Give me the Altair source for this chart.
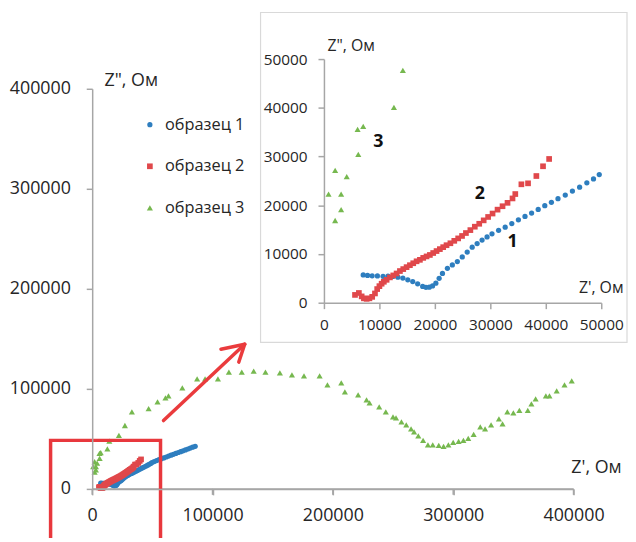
import altair as alt
import pandas as pd

# ---------------- data ----------------
series_names = ["образец 1", "образец 2", "образец 3"]
colors = ["#2e7ebf", "#e0484b", "#76b84f"]
shapes = ["circle", "square", "triangle-up"]
sizes = [28, 38, 58]

x1 = [7080, 7860, 8690, 9640, 10660, 11550, 12440, 13330, 14230, 15120, 16010, 16900,
      17800, 18390, 18990, 19580, 20180, 20770, 21370, 22260, 23150, 24050, 24940, 25830,
      26730, 27620, 28510, 29410, 30300, 31490, 32680, 33870, 35060, 36250, 37440, 38630,
      39820, 41010, 42200, 43510, 44800, 46100, 47400, 48600, 49640,
      51500, 53500, 55500, 57500, 59500, 61500, 63500, 65500, 67500, 69500, 71500, 73500,
      75500, 77500, 79500, 81500, 83500, 85600]
y1 = [5690, 5600, 5520, 5500, 5420, 5480, 5380, 5250, 5050, 4700, 4350, 3880,
      3350, 3150, 3180, 3450, 4000, 5000, 6000, 7050, 7750, 8450, 9400, 10400,
      11400, 12150, 12850, 13500, 14150, 14850, 15500, 16250, 17000, 17700, 18400, 19150,
      19900, 20600, 21350, 22100, 22900, 23700, 24600, 25400, 26300,
      27300, 28300, 29200, 30100, 31000, 31900, 32800, 33700, 34600, 35500, 36400, 37200,
      38100, 39000, 39900, 40800, 41700, 42600]

x2 = [5600, 6300, 6800, 7200, 7700, 8200, 8700, 9200, 9600, 10000, 10400, 10800, 11300,
      11900, 12500, 13100, 13700, 14300, 14900, 15500, 16100, 16700, 17300, 17900, 18500,
      19100, 19700, 20300, 20900, 21500, 22100, 22800, 23500, 24200, 24900, 25600, 26400,
      27200, 28000, 28800, 29600, 30400, 31300, 32200, 33100, 34000, 34500, 35600, 36800,
      38300, 39500, 40600]
y2 = [1600, 2000, 1300, 900, 800, 900, 1200, 1900, 2800, 3400, 3900, 4300, 4700,
      5200, 5600, 6000, 6500, 6900, 7300, 7700, 8100, 8500, 8800, 9200, 9500,
      9800, 10200, 10600, 11000, 11400, 11800, 12200, 12700, 13200, 13700, 14300, 14900,
      15600, 16200, 16900, 17600, 18300, 19100, 19800, 20500, 21400, 22300, 24300, 24500,
      26000, 28000, 29500]

x3 = [830, 2020, 2020, 3100, 3100, 4110, 6190, 6070, 7080, 12620, 14230, 22200, 27200,
      33000, 46900, 54300, 60900, 63400, 74900, 87200, 93800, 104500, 113600, 124300,
      134200, 144000, 156000, 166000, 176000, 189000, 195500, 207000, 210000, 221000,
      228000, 230500, 238500, 244000, 250000, 252500, 257000, 261000, 265000, 267500,
      271000, 275000, 279000, 283000, 288000, 292000, 296000, 300000, 304500, 308500,
      312500, 317000, 322500, 326500, 331500, 338000, 341000, 345000, 350000, 355000,
      362000, 365000, 368500, 377000, 380000, 386000, 392500, 398500]
y3 = [22300, 27170, 16870, 22300, 19100, 25880, 30420, 35570, 36180, 40100, 47700, 53500, 63400,
      77000, 80200, 87100, 91100, 93100, 101000, 109900, 109900, 109900, 116800, 116800,
      117800, 116800, 116000, 114000, 113000, 113000, 104000, 106000, 97000, 94000,
      89000, 86000, 82000, 77000, 72000, 71000, 67000, 64000, 60000, 57000,
      53000, 48500, 44000, 44000, 43500, 42500, 44000, 46500, 47500, 48500,
      50500, 54500, 62000, 60000, 64000, 70000, 65000, 77000, 76000, 78500,
      78500, 85000, 90000, 93000, 93000, 98000, 104000, 108000]

main_ticks = [0, 100000, 200000, 300000, 400000]
inset_ticks = [0, 10000, 20000, 30000, 40000, 50000]

label_text = ["1", "2", "3"]
label_x = [34000, 28100, 9800]
label_y = [12500, 22300, 32900]

# ---------------- tables ----------------
rows = []
for name, xs, ys in zip(series_names, [x1, x2, x3], [y1, y2, y3]):
    for a, b in zip(xs, ys):
        rows.append({"series": name, "x": a, "y": b})
df = pd.DataFrame(rows)
labels_df = pd.DataFrame({"t": label_text, "x": label_x, "y": label_y})
ticks_df = pd.DataFrame({"x": main_ticks})
one = pd.DataFrame({"k": [0]})

FONT = "Open Sans"
TXT = "#262626"
AX = "#a6a6a6"

W, H = 486, 404

legend_kw = dict(orient="none", legendX=50, legendY=28, title=None, labelFont=FONT,
                 labelFontSize=16.5, labelColor=TXT, symbolSize=32, rowPadding=25,
                 labelOffset=7, padding=0, symbolStrokeWidth=0)

color_enc = alt.Color("series:N", scale=alt.Scale(domain=series_names, range=colors),
                      legend=alt.Legend(**legend_kw))
shape_enc = alt.Shape("series:N", scale=alt.Scale(domain=series_names, range=shapes),
                      legend=alt.Legend(**legend_kw))
size_enc = alt.Size("series:O", scale=alt.Scale(domain=series_names, range=sizes), legend=None)

common_axis = dict(format="d", grid=False, domain=True, ticks=True, domainColor=AX,
                   domainWidth=1.5, tickColor=AX, tickWidth=1.5, tickSize=6,
                   labelFont=FONT, labelColor=TXT, titleFont=FONT, labelOverlap=False,
                   labelFlush=False, labelBound=False,
                   titleFontWeight="normal", titleColor=TXT, zindex=2)

# ---------------- main chart ----------------
mx = alt.X("x:Q", scale=alt.Scale(domain=[0, 400000]),
           axis=alt.Axis(orient="bottom", values=main_ticks, labelFontSize=18,
                         labelPadding=12, title="Z', Ом", titleFontSize=18,
                         titleX=534, titleY=-22, titleAlign="right",
                         titleBaseline="middle", **common_axis))
my = alt.Y("y:Q", scale=alt.Scale(domain=[0, 400000]),
           axis=alt.Axis(orient="left", values=main_ticks, labelFontSize=18,
                         labelPadding=16, title='Z", Ом', titleFontSize=18,
                         titleAngle=0, titleX=12, titleY=-8, titleAlign="left",
                         titleBaseline="middle", **common_axis))

main_pts = alt.Chart(df).mark_point(filled=True, opacity=1).encode(
    x=mx, y=my, color=color_enc, shape=shape_enc, size=size_enc)

# x-axis baseline and its tick marks drawn through the main x scale
main_base = alt.Chart(one).mark_rule(color=AX, strokeWidth=1.5).encode(
    x=alt.datum(0), x2=alt.datum(400000), y=alt.value(H))
main_xticks = alt.Chart(ticks_df).mark_rule(color=AX, strokeWidth=1.5).encode(
    x=alt.X("x:Q"), y=alt.value(H), y2=alt.value(H + 6))

main = alt.layer(main_pts, main_base, main_xticks)

# ---------------- inset frame, marker box and arrow ----------------
frame = alt.Chart(one).mark_rect(fill="white", stroke="#d9d9d9", strokeWidth=1.2).encode(
    x=alt.value(170), x2=alt.value(540), y=alt.value(-77), y2=alt.value(256))

redbox = alt.Chart(one).mark_rect(fill=None, stroke="#e8383d", strokeWidth=3.5).encode(
    x=alt.value(-42), x2=alt.value(69), y=alt.value(355), y2=alt.value(480))

arrow_df = pd.DataFrame({"x": [72, 154, 154], "y": [335, 258, 258],
                         "x2": [154, 130, 148], "y2": [258, 263, 276]})
arrow = alt.Chart(arrow_df).mark_rule(color="#ea3b3d", strokeWidth=3.5, strokeCap="round").encode(
    x=alt.X("x:Q", scale=None), y=alt.Y("y:Q", scale=None),
    x2="x2:Q", y2="y2:Q")

# ---------------- inset ----------------
ix = alt.X("x:Q", scale=alt.Scale(domain=[0, 50000], range=[234, 514]),
           axis=alt.Axis(orient="bottom", offset=-188, values=inset_ticks,
                         labelFontSize=15.5, labelPadding=9, title="Z', Ом",
                         titleFontSize=16, titleX=536, titleY=-15, titleAlign="right",
                         titleBaseline="middle", **common_axis))
iy = alt.Y("y:Q", scale=alt.Scale(domain=[0, 50000], range=[216, -30]),
           axis=alt.Axis(orient="left", offset=-234, values=inset_ticks,
                         labelFontSize=15.5, labelPadding=11, title='Z", Ом',
                         titleFontSize=16, titleAngle=0, titleX=3, titleY=-44,
                         titleAlign="left", titleBaseline="middle", **common_axis))

inset_pts = alt.Chart(df).transform_filter(
    (alt.datum.x <= 50000) & (alt.datum.y <= 50000)
).mark_point(filled=True, opacity=1).encode(
    x=ix, y=iy, color=color_enc, shape=shape_enc, size=size_enc)

inset_lbl = alt.Chart(labels_df).mark_text(font=FONT, fontSize=18, fontWeight="bold",
                                           color="#111111", align="center", baseline="middle").encode(
    x=alt.X("x:Q"), y=alt.Y("y:Q"), text="t:N")

inset = alt.layer(inset_pts, inset_lbl)

chart = alt.layer(main, frame, inset, redbox, arrow).resolve_scale(
    x="independent", y="independent"
).properties(
    width=W, height=H,
    padding={"left": 85, "top": 79, "right": 55, "bottom": 47},
    autosize=alt.AutoSizeParams(type="none"),
    background="white",
).configure_view(strokeWidth=0)

chart.save("out.html", embed_options={"renderer": "svg", "actions": False})
